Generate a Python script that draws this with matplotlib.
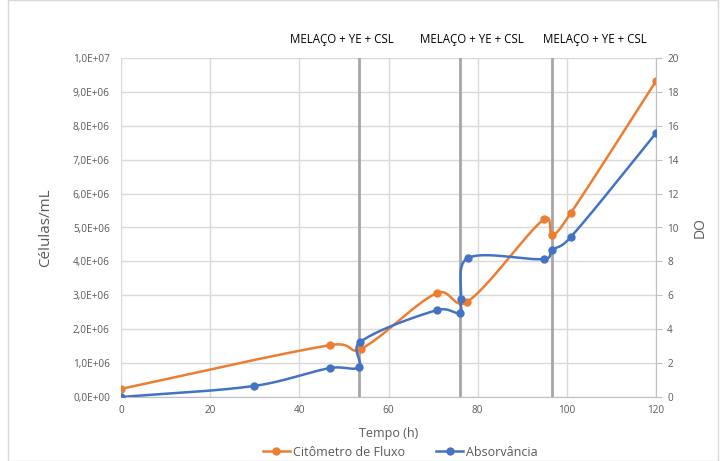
import numpy as np
import matplotlib
matplotlib.use("Agg")
import matplotlib.pyplot as plt
from matplotlib.patches import Rectangle

plt.rcParams['font.family'] = ['Open Sans', 'DejaVu Sans']

# Citômetro de Fluxo (células/mL)
t_cit = [0, 46.9, 53.8, 70.9, 77.6, 94.9, 96.7, 100.9, 120]
cel = [0.24e6, 1.53e6, 1.42e6, 3.07e6, 2.80e6, 5.25e6, 4.78e6, 5.43e6, 9.32e6]

# Absorvância (DO)
t_abs = [0, 29.8, 46.9, 53.4, 53.6, 70.9, 76.0, 76.2, 77.8, 94.9, 96.7, 100.9, 120]
do = [0.0, 0.65, 1.71, 1.77, 3.24, 5.13, 4.96, 5.78, 8.20, 8.14, 8.67, 9.44, 15.57]

# feed additions
t_feed = [53.4, 76.0, 96.7]
feed_label = "MELAÇO + YE + CSL"
feed_text_x = [49.5, 78.8, 106.4]

ORANGE = "#ED7D31"
BLUE = "#4472C4"
GRID = "#D9D9D9"
TXT = "#595959"

W, H = 723, 461
fig = plt.figure(figsize=(W / 100, H / 100), dpi=100)
ax = fig.add_axes([121 / W, 1 - 397 / H, (656 - 121) / W, (397 - 58) / H])
ax2 = ax.twinx()

XMAX, Y1MAX, Y2MAX = 120, 1e7, 20
AXW, AXH = 535.0, 339.0


def smooth(xs, ys, ymax, n=40, mix=0.5):
    # Bezier smoothing in screen space; tangents partly weighted by chord length
    p = np.column_stack([np.array(xs) / XMAX * AXW, np.array(ys) / ymax * AXH])
    pts = np.vstack([p[0], p, p[-1]])
    out = []
    for i in range(1, len(pts) - 2):
        p0, p1, p2, p3 = pts[i - 1], pts[i], pts[i + 1], pts[i + 2]
        d01 = np.linalg.norm(p1 - p0)
        d12 = np.linalg.norm(p2 - p1)
        d23 = np.linalg.norm(p3 - p2)
        k1 = mix * d12 / (3 * (d01 + d12)) + (1 - mix) / 6
        k2 = mix * d12 / (3 * (d12 + d23)) + (1 - mix) / 6
        c1 = p1 + (p2 - p0) * k1
        c2 = p2 - (p3 - p1) * k2
        s = np.linspace(0, 1, n)[:, None]
        seg = ((1 - s) ** 3) * p1 + 3 * ((1 - s) ** 2) * s * c1 + 3 * (1 - s) * s ** 2 * c2 + s ** 3 * p2
        out.append(seg)
    c = np.vstack(out)
    return c[:, 0] / AXW * XMAX, c[:, 1] / AXH * ymax


for tf in t_feed:
    ax.axvline(tf, color="#A6A6A6", lw=2, zorder=2)
for tx in feed_text_x:
    ax.text(tx, 1.055e7, feed_label, ha="center", va="center", fontsize=8.3, color="black")

sx, sy = smooth(t_cit, cel, Y1MAX)
ax.plot(sx, sy, color=ORANGE, lw=1.8, zorder=4)
ax.plot(t_cit, cel, "o", color=ORANGE, ms=5, zorder=5)

bx, by = smooth(t_abs, do, Y2MAX)
ax2.plot(bx, by, color=BLUE, lw=1.8, zorder=4)
ax2.plot(t_abs, do, "o", color=BLUE, ms=5, zorder=5)

ax.set_xlim(0, XMAX)
ax.set_ylim(0, Y1MAX)
ax2.set_ylim(0, Y2MAX)
ax.set_xticks(np.arange(0, 121, 20))
ax.set_yticks(np.arange(0, 1.01e7, 1e6))
ax2.set_yticks(np.arange(0, 21, 2))
ax.set_yticklabels([f"{v:.1f}".replace(".", ",") + ("E+00" if i == 0 else ("E+07" if i == 10 else "E+06"))
                    for i, v in enumerate([0, 1, 2, 3, 4, 5, 6, 7, 8, 9, 1])])
ax.grid(True, color=GRID, lw=1, zorder=0)
ax.set_axisbelow(True)

for a in (ax, ax2):
    for s in a.spines.values():
        s.set_visible(False)
    a.tick_params(colors=TXT, labelsize=7.2, length=0, pad=8)
ax2.spines["right"].set_visible(True)
ax2.spines["right"].set_color("#BFBFBF")
ax2.tick_params(axis="y", length=4, color="#BFBFBF", pad=4)
ax.spines["bottom"].set_visible(True)
ax.spines["bottom"].set_color("#BFBFBF")
ax.tick_params(axis="x", pad=6)

ax.set_xlabel("Tempo (h)", fontsize=9, color=TXT, labelpad=8)
ax.set_ylabel("Células/mL", fontsize=11, color=TXT, labelpad=14)
ax2.set_ylabel("DO", fontsize=10, color=TXT, labelpad=10)

h1, = ax.plot([], [], "-o", color=ORANGE, lw=1.8, ms=5, label="Citômetro de Fluxo")
h2, = ax.plot([], [], "-o", color=BLUE, lw=1.8, ms=5, label="Absorvância")
fig.legend(handles=[h1, h2], loc="center", bbox_to_anchor=(400 / W, 1 - 452 / H), ncol=2,
           frameon=False, fontsize=9, labelcolor=TXT, handlelength=2.2, handletextpad=0.2,
           columnspacing=2.5)

fig.patches.append(Rectangle((8 / W, 0), (718 - 8) / W, 1, transform=fig.transFigure,
                             fill=False, edgecolor="#D9D9D9", lw=1))

fig.savefig("out.png", dpi=100)
